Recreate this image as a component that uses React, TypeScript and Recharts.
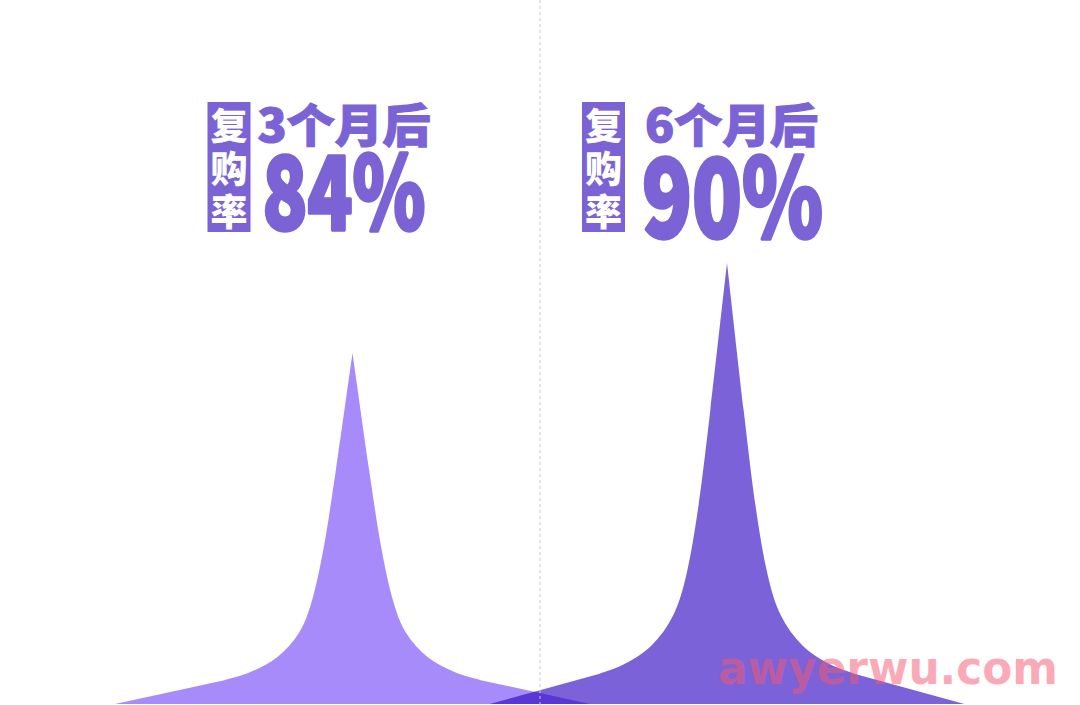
import { BarChart, Bar, XAxis, YAxis, Cell, LabelList } from 'recharts'

// 复购率：3 个月 / 6 个月
const periods = ['3个月后', '6个月后']
const rates = [84, 90]
const sideChars = ['复', '购', '率']
const spikeColors = ['#a78bfa', '#2a02c0']
const spikeOpacity = [1, 0.62]
const watermark = 'awyerwu.com'

const TEXT = '#7b63d6'
const FONT = '"Noto Sans CJK SC", "Noto Sans", sans-serif'

const data = periods.map((p, i) => ({ period: p, rate: rates[i] }))

// 尖峰右半边的轮廓（相对半宽, 相对高度），从底部外沿到顶点
const PROFILE: [number, number][] = [
  [0.54, 0.068],
  [0.43, 0.091],
  [0.316, 0.134],
  [0.226, 0.202],
  [0.17, 0.296],
  [0.12, 0.45],
  [0.07, 0.667],
  [0, 1],
]

type Pt = [number, number]

function smooth(pts: Pt[]) {
  let d = ''
  for (let i = 0; i < pts.length - 1; i++) {
    const p0 = pts[Math.max(i - 1, 0)]
    const p1 = pts[i]
    const p2 = pts[i + 1]
    const p3 = pts[Math.min(i + 2, pts.length - 1)]
    const c1x = p1[0] + (p2[0] - p0[0]) / 6
    const c1y = p1[1] + (p2[1] - p0[1]) / 6
    const c2x = p2[0] - (p3[0] - p1[0]) / 6
    const c2y = p2[1] - (p3[1] - p1[1]) / 6
    d += ` C${c1x},${c1y} ${c2x},${c2y} ${p2[0]},${p2[1]}`
  }
  return d
}

/** 尖峰形状：比柱宽更宽，相邻两个在中间重叠 */
function Spike(props: any) {
  const { x, y, width, height, index } = props
  if (!height) return null
  const cx = x + width / 2
  const hw = width * 0.633
  const base = y + height
  const right: Pt[] = PROFILE.map(([dx, h]) => [cx + dx * hw, base - h * height])
  const left: Pt[] = [...PROFILE].reverse().map(([dx, h]) => [cx - dx * hw, base - h * height])
  const d =
    `M${cx - hw},${base} L${cx + hw},${base} L${right[0][0]},${right[0][1]}` +
    smooth(right) +
    smooth(left) +
    ` L${cx - hw},${base} Z`
  return <path d={d} fill={spikeColors[index]} fillOpacity={spikeOpacity[index]} />
}

function RateLabel(props: any) {
  const vb = props.viewBox ?? props
  const { x, width } = vb
  const { value, index } = props
  const cx = x + width / 2
  const boxX = cx - 145
  const titleX = cx + (index === 0 ? -95 : -82)
  const numX = cx + (index === 0 ? -90 : -85)
  const numW = index === 0 ? 163 : 181
  const numSize = index === 0 ? 102 : 108
  const numBase = index === 0 ? 230 : 237
  return (
    <g>
      {index === 0 && (
        <line x1={x + width} x2={x + width} y1={0} y2={705} stroke="#c8c8c8" strokeWidth={1} strokeDasharray="3 3" />
      )}
      <rect x={boxX} y={102} width={43} height={130} fill={TEXT} />
      {sideChars.map((c, i) => (
        <text
          key={c}
          x={boxX + 21.5}
          y={124 + i * 43}
          textAnchor="middle"
          dominantBaseline="central"
          fill="#fff"
          fontFamily={FONT}
          fontWeight={900}
          fontSize={37}
        >
          {c}
        </text>
      ))}
      <text
        x={titleX}
        y={122}
        dominantBaseline="central"
        fill={TEXT}
        stroke={TEXT}
        strokeWidth={1.2}
        fontFamily={FONT}
        fontWeight={900}
        fontSize={46}
        textLength={173}
        lengthAdjust="spacingAndGlyphs"
      >
        {periods[index]}
      </text>
      <text
        x={numX}
        y={numBase}
        fill={TEXT}
        stroke={TEXT}
        strokeWidth={3.5}
        strokeLinejoin="round"
        fontFamily={FONT}
        fontWeight={900}
        fontSize={numSize}
        textLength={numW}
        lengthAdjust="spacingAndGlyphs"
      >
        {value}%
      </text>
    </g>
  )
}

export default function App() {
  return (
    <div style={{ position: 'fixed', left: 0, top: 0, width: 1080, height: 705, background: '#fff' }}>
      <BarChart width={1080} height={705} data={data} margin={{ top: 113, right: 166, bottom: 1, left: 165 }} barCategoryGap={0}>
        <XAxis dataKey="period" hide />
        <YAxis hide domain={[60.6, 100]} />
        <Bar dataKey="rate" shape={<Spike />} isAnimationActive={false}>
          {data.map((d, i) => (
            <Cell key={d.period} fill={spikeColors[i]} />
          ))}
          <LabelList dataKey="rate" content={<RateLabel />} />
        </Bar>
      </BarChart>
      <svg width={1080} height={705} style={{ position: 'absolute', left: 0, top: 0, pointerEvents: 'none' }}>
        <text
          x={718}
          y={684}
          fill="#f5566e"
          fillOpacity={0.5}
          fontFamily='"DejaVu Sans", sans-serif'
          fontWeight={700}
          fontSize={46}
          textLength={340}
          lengthAdjust="spacingAndGlyphs"
        >
          {watermark}
        </text>
      </svg>
    </div>
  )
}
